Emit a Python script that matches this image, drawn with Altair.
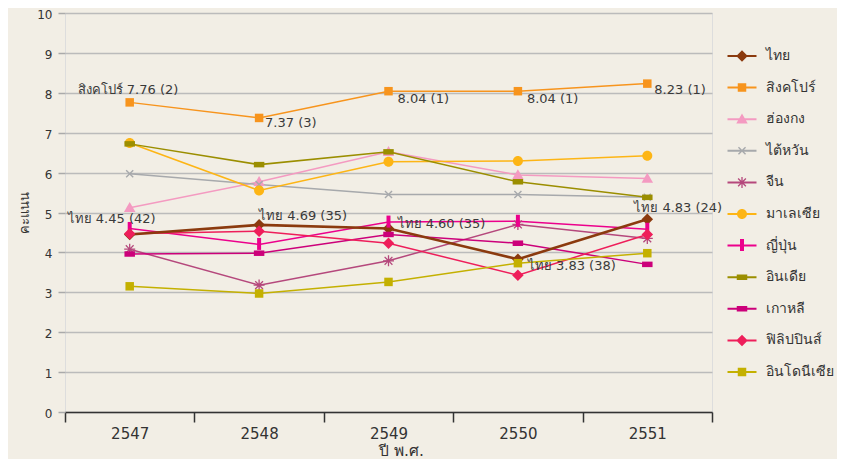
import math
import altair as alt
import pandas as pd

years = ["2547", "2548", "2549", "2550", "2551"]
countries = ["ไทย", "สิงคโปร์", "ฮ่องกง", "ไต้หวัน", "จีน", "มาเลเซีย",
             "ญี่ปุ่น", "อินเดีย", "เกาหลี", "ฟิลิปปินส์", "อินโดนีเซีย"]
thai = [4.45, 4.69, 4.60, 3.83, 4.83]
singapore = [7.76, 7.37, 8.04, 8.04, 8.23]
hongkong = [5.12, 5.77, 6.52, 5.94, 5.85]
taiwan = [5.97, 5.70, 5.45, 5.45, 5.38]
china = [4.08, 3.18, 3.79, 4.70, 4.35]
malaysia = [6.74, 5.55, 6.27, 6.29, 6.42]
japan = [4.60, 4.20, 4.76, 4.78, 4.58]
india = [6.72, 6.20, 6.52, 5.77, 5.38]
korea = [3.96, 3.98, 4.45, 4.23, 3.70]
philippines = [4.47, 4.53, 4.23, 3.43, 4.45]
indonesia = [3.15, 2.97, 3.26, 3.73, 3.98]
series = [thai, singapore, hongkong, taiwan, china, malaysia,
          japan, india, korea, philippines, indonesia]

colors = ["#8B3A0E", "#F7941D", "#F49AC1", "#A7A9AC", "#B5487C", "#FDB515",
          "#EC008C", "#9B8E00", "#CC007A", "#EE1E5A", "#C4B000"]

# annotations
ann_country = ["สิงคโปร์", "สิงคโปร์", "สิงคโปร์", "สิงคโปร์", "สิงคโปร์",
               "ไทย", "ไทย", "ไทย", "ไทย", "ไทย"]
ann_year = ["2547", "2548", "2549", "2550", "2551",
            "2547", "2548", "2549", "2550", "2551"]
ann_text = ["สิงคโปร์ 7.76 (2)", "7.37 (3)", "8.04 (1)", "8.04 (1)", "8.23 (1)",
            "ไทย 4.45 (42)", "ไทย 4.69 (35)", "ไทย 4.60 (35)", "ไทย 3.83 (38)", "ไทย 4.83 (24)"]
ann_offsets = [(-52, -12), (6, 5), (9, 8), (9, 8), (7, 6),
               (-62, -15), (0, -9), (9, -4), (10, 7), (-13, -11)]

rows = []
for c, vals in zip(countries, series):
    for y, v in zip(years, vals):
        rows.append({"country": c, "year": y, "score": v})
df = pd.DataFrame(rows)

val_lookup = {(r["country"], r["year"]): r["score"] for r in rows}
ann_df = pd.DataFrame({
    "year": ann_year,
    "score": [val_lookup[(c, y)] for c, y in zip(ann_country, ann_year)],
    "label": ann_text,
})


def f(v):
    return ("%.3f" % v).rstrip("0").rstrip(".")


def star(n, L, a, rot_deg):
    beta = math.pi / n
    rin = a / math.sin(beta)
    pts = []
    for k in range(n):
        th = math.radians(rot_deg) + 2 * math.pi * k / n
        dx, dy = math.cos(th), math.sin(th)
        nx, ny = -dy, dx
        pts.append((L * dx - a * nx, L * dy - a * ny))
        pts.append((L * dx + a * nx, L * dy + a * ny))
        ti = th + beta
        pts.append((rin * math.cos(ti), rin * math.sin(ti)))
    return "M" + "L".join(f(x) + "," + f(y) for x, y in pts) + "Z"


diamond = "M0,-1.15L1.15,0L0,1.15L-1.15,0Z"
square = "M-0.85,-0.85H0.85V0.85H-0.85Z"
triangle = "M0,-1.15L1.15,0.85L-1.15,0.85Z"
xshape = star(4, 1.0, 0.14, 45)
asterisk = star(8, 1.1, 0.13, 0)
circle = "M1,0A1,1 0 1,1 -1,0A1,1 0 1,1 1,0Z"
tallrect = "M-0.4,-1.3H0.4V1.1H-0.4Z"
widerect = "M-1.05,-0.55H1.05V0.55H-1.05Z"
shapes = [diamond, square, triangle, xshape, asterisk, circle,
          tallrect, widerect, widerect, diamond, square]
legline = "M-2.9,-0.2H2.9V0.2H-2.9Z "
legend_shapes = [legline + s for s in shapes]

xenc = alt.X("year:O", title="ปี พ.ศ.", bandPosition=0.5,
             scale=alt.Scale(type="band", paddingInner=0, paddingOuter=0),
             axis=alt.Axis(labelAngle=0, tickBand="extent", grid=False,
                           domainColor="#333333", domainWidth=1.5,
                           tickColor="#333333", tickWidth=1.5, tickSize=10,
                           labelPadding=4, labelFontSize=15, labelColor="#333333",
                           titleFontSize=15.5, titleColor="#333333", titlePadding=2,
                           titleX=336, titleAlign="center",
                           titleFontWeight="normal"))
yenc = alt.Y("score:Q", title="คะแนน",
             scale=alt.Scale(domain=[0, 10], nice=False),
             axis=alt.Axis(values=list(range(11)), grid=True, gridColor="#BBBBBB",
                           gridWidth=1.5, domain=False, tickColor="#AAAAAA",
                           tickSize=7, tickWidth=1.5, labelFontSize=12,
                           labelColor="#333333", labelPadding=6, labelOffset=1.5,
                           titleFontSize=13, titleColor="#333333",
                           titleFontWeight="normal", titlePadding=5))
color_scale = alt.Scale(domain=countries, range=colors)

base = alt.Chart(df)

lines_other = base.transform_filter(alt.datum.country != "ไทย").mark_line().encode(
    x=xenc, y=yenc,
    color=alt.Color("country:N", scale=color_scale, legend=None),
    strokeWidth=alt.value(1.5),
    detail="country:N",
)
lines_thai = base.transform_filter(alt.datum.country == "ไทย").mark_line().encode(
    x=xenc, y=yenc,
    color=alt.Color("country:N", scale=color_scale, legend=None),
    strokeWidth=alt.value(2.6),
)
points = base.mark_point(filled=True, opacity=1, size=100, strokeWidth=0).encode(
    x=xenc, y=yenc,
    color=alt.Color("country:N", scale=color_scale, legend=None),
    shape=alt.Shape("country:N", scale=alt.Scale(domain=countries, range=shapes), legend=None),
)
leg = alt.Legend(title=None, orient="none", legendX=670, legendY=36,
                 symbolSize=100, symbolStrokeWidth=0,
                 labelFontSize=14, labelColor="#333333",
                 labelOffset=17, rowPadding=17.6, symbolOpacity=1)
legend_layer = base.transform_filter("false").mark_point(filled=True, opacity=1, size=100).encode(
    x=xenc, y=yenc,
    fill=alt.Fill("country:N", scale=alt.Scale(domain=countries, range=colors), legend=leg),
    shape=alt.Shape("country:N", scale=alt.Scale(domain=countries, range=legend_shapes), legend=leg),
)

texts = []
for i, (dx, dy) in enumerate(ann_offsets):
    texts.append(
        alt.Chart(ann_df.iloc[[i]]).mark_text(align="left", baseline="middle", dx=dx, dy=dy,
                                              fontSize=13, color="#3A3A3A").encode(
            x=xenc, y=yenc, text="label:N")
    )

chart = alt.layer(lines_other, lines_thai, points, legend_layer, *texts).resolve_scale(
    shape="independent", fill="independent"
).properties(
    width=647, height=399,
    autosize=alt.AutoSizeParams(type="none"),
    padding={"left": 57, "top": 5, "right": 125, "bottom": 47},
    background="#F2EEE5",
).configure_view(
    fill="#EEEAD9", stroke=None
).configure(font="DejaVu Sans")

chart.save("out.html", embed_options={"renderer": "svg", "actions": False})
